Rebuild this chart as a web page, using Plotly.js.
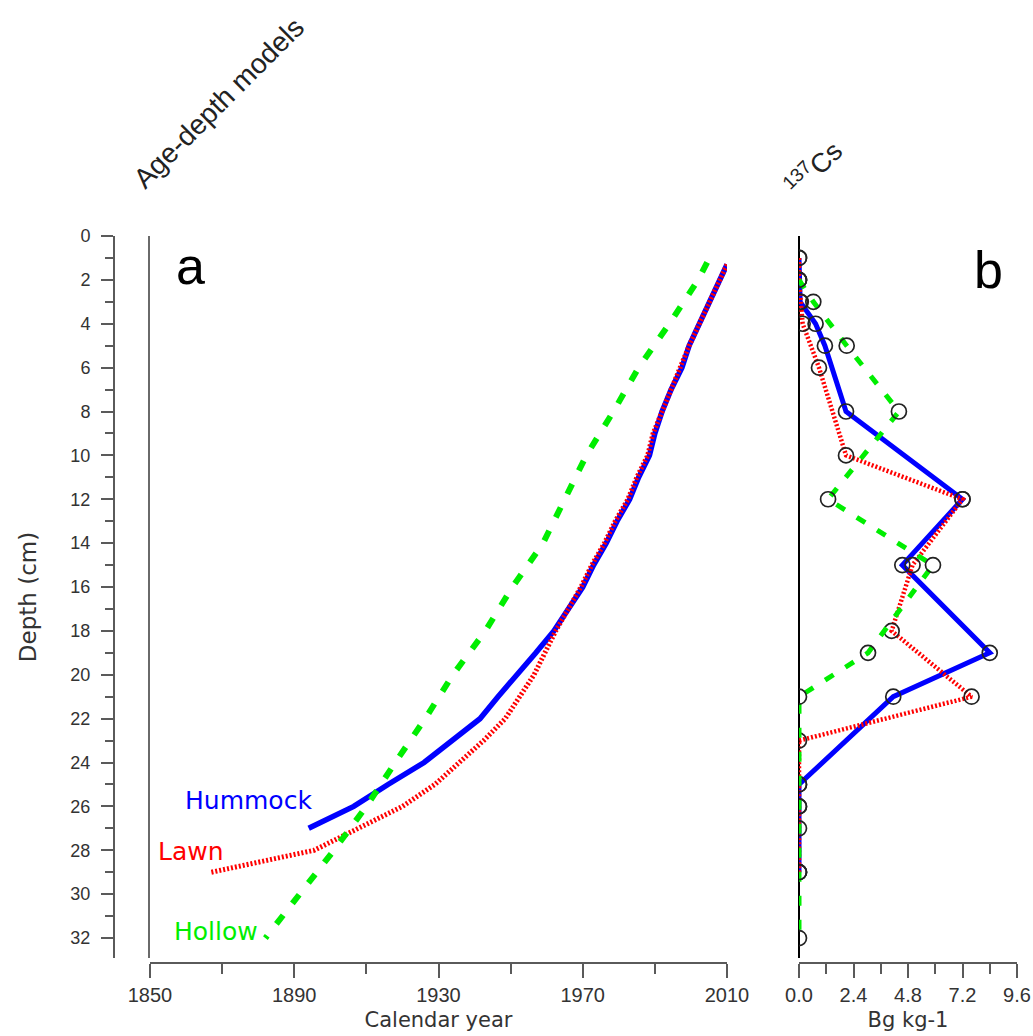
<!DOCTYPE html>
<html>
<head>
<meta charset="utf-8">
<script src="https://cdn.plot.ly/plotly-3.0.1.min.js"></script>
<style>html,body{margin:0;padding:0;background:#fff;}#chart{width:1033px;height:1036px;}</style>
</head>
<body>
<div id="chart"></div>
<script>
// ---- Panel a: age-depth models (depth cm -> calendar year) ----
const hummockDepth = [1.3, 2, 3, 4, 5, 6, 7, 8, 9, 10, 11, 12, 13, 14, 15, 16, 17, 18, 19, 20, 21, 22, 23, 24, 25, 26, 27];
const hummockYear  = [2010, 2008, 2005.5, 2002.5, 1999.5, 1997.5, 1994.5, 1992, 1990, 1988.5, 1985.5, 1983, 1979.5, 1976.5, 1973, 1970, 1966, 1962, 1957, 1951.5, 1946.5, 1941.5, 1934, 1926, 1916, 1906.5, 1894];

const lawnDepth = [1.3, 2, 3, 4, 5, 6, 7, 8, 9, 10, 11, 12, 13, 14, 15, 16, 17, 18, 19, 20, 21, 22, 23, 24, 25, 26, 27, 28, 29];
const lawnYear  = [2010, 2008, 2005.5, 2002.5, 1999.5, 1997, 1994.5, 1992, 1989.5, 1988, 1985, 1982.5, 1979, 1976, 1972.5, 1969.5, 1966, 1962.5, 1959.5, 1956.5, 1952.5, 1948.5, 1942.5, 1936, 1929, 1920, 1908, 1895.5, 1867];

const hollowDepth = [1.2, 2, 4, 6, 8, 10, 12, 14, 16, 18, 20, 22, 24, 26, 28, 30, 32];
const hollowYear  = [2004.5, 2002, 1994, 1985.5, 1978.5, 1971, 1965, 1959, 1950.5, 1943, 1934, 1926.3, 1918, 1910, 1901, 1891.5, 1882];

// ---- Panel b: 137Cs activity (Bg kg-1) ----
const csHummockDepth = [1, 2, 3, 4, 5, 8, 12, 15, 19, 21, 25, 26, 29];
const csHummockValue = [0, 0, 0.05, 0.73, 1.14, 2.07, 7.2, 4.55, 8.4, 4.15, 0, 0, 0];

const csLawnDepth = [1, 2, 3, 4, 6, 10, 12, 15, 18, 21, 23, 25, 27, 29];
const csLawnValue = [0, 0, 0.08, 0.16, 0.88, 2.07, 7.2, 5.0, 4.08, 7.6, 0, 0, 0, 0];

const csHollowDepth = [2, 3, 5, 8, 12, 15, 19, 21, 26, 29, 32];
const csHollowValue = [0, 0.63, 2.1, 4.4, 1.28, 5.9, 3.04, 0, 0, 0, 0];

const yearTicks = [1850, 1890, 1930, 1970, 2010];
const csTicks = [0, 2.4, 4.8, 7.2, 9.6];
const depthTicks = [0, 2, 4, 6, 8, 10, 12, 14, 16, 18, 20, 22, 24, 26, 28, 30, 32];

const BLUE = '#0000ff', RED = '#ff0000', GREEN = '#00ee00';
const AX = '#5a5a5a';
const TXT = '#333333';

// geometry helpers (plot area: left 114, right 1017, top 229, bottom 963)
const L = 114, R = 1017, T = 229, B = 963;
const W = R - L, H = B - T;
const px = v => (v - L) / W;
const py = v => (B - v) / H;

const markerSpec = {symbol: 'circle-open', size: 15, color: '#222', line: {width: 1.7, color: '#222'}};

const traces = [
  {x: hummockYear, y: hummockDepth, xaxis: 'x', yaxis: 'y2', mode: 'lines', name: 'Hummock',
   line: {color: BLUE, width: 5.5}},
  {x: lawnYear, y: lawnDepth, xaxis: 'x', yaxis: 'y2', mode: 'lines', name: 'Lawn',
   line: {color: RED, width: 5, dash: '2px,2px'}},
  {x: hollowYear, y: hollowDepth, xaxis: 'x', yaxis: 'y2', mode: 'lines', name: 'Hollow',
   line: {color: GREEN, width: 6, dash: '11px,15px'}},
  {x: csHummockValue, y: csHummockDepth, xaxis: 'x2', yaxis: 'y', mode: 'lines+markers', name: 'Hummock Cs',
   line: {color: BLUE, width: 5}, marker: markerSpec},
  {x: csLawnValue, y: csLawnDepth, xaxis: 'x2', yaxis: 'y', mode: 'lines+markers', name: 'Lawn Cs',
   line: {color: RED, width: 4.5, dash: '2px,2px'}, marker: markerSpec},
  {x: csHollowValue, y: csHollowDepth, xaxis: 'x2', yaxis: 'y', mode: 'lines+markers', name: 'Hollow Cs',
   line: {color: GREEN, width: 5, dash: '10px,14px'}, marker: markerSpec}
];

const yRange = [32.91, 0];
const yDomain = [py(958), py(236)];
const domA = [px(150), px(727)];
const domB = [px(799), px(1017)];

const xTickFont = {family: 'Liberation Sans, Arial, sans-serif', size: 20, color: TXT};
const yTickFont = {family: 'Liberation Sans, Arial, sans-serif', size: 18, color: TXT};
const titleFont = {family: 'DejaVu Sans, sans-serif', size: 21, color: TXT};

const baseX = {
  showgrid: false, zeroline: false, showline: true, linecolor: AX, linewidth: 2,
  ticks: 'outside', tickcolor: AX, tickwidth: 2, tickfont: xTickFont
};

const layout = {
  width: 1033, height: 1036,
  margin: {l: L, r: 1033 - R, t: T, b: 1036 - B, pad: 0},
  paper_bgcolor: '#fff', plot_bgcolor: '#fff',
  showlegend: false,
  xaxis: Object.assign({}, baseX, {
    domain: domA, range: [1850, 2010], anchor: 'free', position: 0,
    tickmode: 'array', tickvals: yearTicks, ticktext: yearTicks.map(String), ticklen: 14,
    minor: {tickmode: 'linear', tick0: 1850, dtick: 20, ticks: 'outside', ticklen: 10, tickcolor: AX, tickwidth: 2},
    title: {text: 'Calendar year', font: titleFont, standoff: 6}
  }),
  xaxis3: Object.assign({}, baseX, {
    domain: domA, range: [1850, 2010], overlaying: 'x', side: 'top', anchor: 'free', position: 1,
    tickmode: 'array', tickvals: yearTicks, ticklen: 11, showticklabels: false,
    minor: {tickmode: 'linear', tick0: 1850, dtick: 20, ticks: 'outside', ticklen: 7, tickcolor: AX, tickwidth: 2}
  }),
  xaxis2: Object.assign({}, baseX, {
    domain: domB, range: [0, 9.6], anchor: 'free', position: 0,
    tickmode: 'array', tickvals: csTicks, ticktext: csTicks.map(v => v.toFixed(1)), ticklen: 14,
    minor: {tickmode: 'linear', tick0: 0, dtick: 1.2, ticks: 'outside', ticklen: 10, tickcolor: AX, tickwidth: 2},
    zeroline: true, zerolinecolor: '#000', zerolinewidth: 1.5,
    title: {text: 'Bg kg-1', font: titleFont, standoff: 6}
  }),
  xaxis4: Object.assign({}, baseX, {
    domain: domB, range: [0, 9.6], overlaying: 'x2', side: 'top', anchor: 'free', position: 1,
    tickmode: 'array', tickvals: csTicks, ticklen: 11, showticklabels: false,
    minor: {tickmode: 'linear', tick0: 0, dtick: 1.2, ticks: 'outside', ticklen: 7, tickcolor: AX, tickwidth: 2}
  }),
  yaxis: {
    domain: yDomain, range: yRange, anchor: 'free', position: 0,
    showgrid: false, zeroline: false, showline: true, linecolor: AX, linewidth: 2,
    ticks: 'outside', tickcolor: AX, tickwidth: 2, ticklen: 12, tickfont: yTickFont,
    tickmode: 'array', tickvals: depthTicks, ticktext: depthTicks.map(String),
    ticklabelstandoff: 7,
    minor: {tickmode: 'linear', tick0: 1, dtick: 2, ticks: 'outside', ticklen: 8, tickcolor: AX, tickwidth: 2},
    title: {text: 'Depth (cm)', font: {family: 'DejaVu Sans, sans-serif', size: 23, color: TXT}, standoff: 26}
  },
  yaxis2: {
    domain: yDomain, range: yRange, overlaying: 'y', anchor: 'x', side: 'left',
    showgrid: false, zeroline: false, showline: true, linecolor: '#6a6a6a', linewidth: 2,
    ticks: '', showticklabels: false
  },
  annotations: [
    {text: 'Age-depth models', xref: 'paper', yref: 'paper', x: px(218), y: py(103),
     xanchor: 'center', yanchor: 'middle', textangle: -45, showarrow: false,
     font: {family: 'Liberation Sans, Arial, sans-serif', size: 28, color: '#222'}},
    {text: '<sup>137</sup>Cs', xref: 'paper', yref: 'paper', x: px(813), y: py(168),
     xanchor: 'center', yanchor: 'middle', textangle: -45, showarrow: false,
     font: {family: 'Liberation Sans, Arial, sans-serif', size: 27, color: '#222'}},
    {text: 'a', xref: 'paper', yref: 'paper', x: px(190), y: py(266),
     xanchor: 'center', yanchor: 'middle', showarrow: false,
     font: {family: 'Liberation Sans, Arial, sans-serif', size: 52, color: '#000'}},
    {text: 'b', xref: 'paper', yref: 'paper', x: px(988), y: py(270),
     xanchor: 'center', yanchor: 'middle', showarrow: false,
     font: {family: 'Liberation Sans, Arial, sans-serif', size: 52, color: '#000'}},
    {text: 'Hummock', xref: 'paper', yref: 'paper', x: px(248), y: py(800),
     xanchor: 'center', yanchor: 'middle', showarrow: false,
     font: {family: 'DejaVu Sans, sans-serif', size: 25, color: BLUE}},
    {text: 'Lawn', xref: 'paper', yref: 'paper', x: px(191), y: py(851),
     xanchor: 'center', yanchor: 'middle', showarrow: false,
     font: {family: 'DejaVu Sans, sans-serif', size: 25, color: RED}},
    {text: 'Hollow', xref: 'paper', yref: 'paper', x: px(216), y: py(931),
     xanchor: 'center', yanchor: 'middle', showarrow: false,
     font: {family: 'DejaVu Sans, sans-serif', size: 25, color: GREEN}}
  ]
};

Plotly.newPlot('chart', traces, layout, {staticPlot: true, displayModeBar: false});
</script>
</body>
</html>
